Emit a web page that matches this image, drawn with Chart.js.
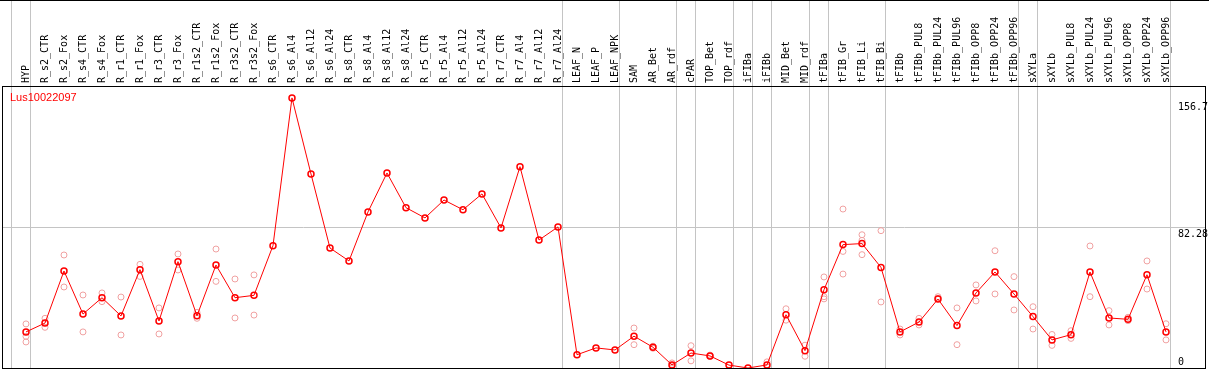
<!DOCTYPE html>
<html lang="en">
<head>
<meta charset="utf-8">
<title>Lus10022097</title>
<script src="https://cdn.jsdelivr.net/npm/chart.js"></script>
<style>
  body { margin: 0; background: #fff; }
  .wrap { position: relative; width: 1209px; height: 369px; border-top: 1px solid #000; }
  #title { position: absolute; left: 10px; top: 90px; color: #f00; font: 11px "Liberation Sans", Arial, sans-serif; }
</style>
</head>
<body>
<div class="wrap">
  <canvas id="chart" width="1209" height="369"></canvas>
  <div id="title">Lus10022097</div>
</div>
<script>
// sample names, in plot order
const categories = [
  'HYP', 'R_s2_CTR', 'R_s2_Fox', 'R_s4_CTR', 'R_s4_Fox', 'R_r1_CTR', 'R_r1_Fox', 'R_r3_CTR', 'R_r3_Fox',
  'R_r1s2_CTR', 'R_r1s2_Fox', 'R_r3s2_CTR', 'R_r3s2_Fox', 'R_s6_CTR', 'R_s6_Al4', 'R_s6_Al12', 'R_s6_Al24',
  'R_s8_CTR', 'R_s8_Al4', 'R_s8_Al12', 'R_s8_Al24', 'R_r5_CTR', 'R_r5_Al4', 'R_r5_Al12', 'R_r5_Al24',
  'R_r7_CTR', 'R_r7_Al4', 'R_r7_Al12', 'R_r7_Al24', 'LEAF_N', 'LEAF_P', 'LEAF_NPK', 'SAM', 'AR_Bet', 'AR_rdf',
  'cPAR', 'TOP_Bet', 'TOP_rdf', 'iFIBa', 'iFIBb', 'MID_Bet', 'MID_rdf', 'tFIBa', 'tFIB_Gr', 'tFIB_Li', 'tFIB_Bi',
  'tFIBb', 'tFIBb_PUL8', 'tFIBb_PUL24', 'tFIBb_PUL96', 'tFIBb_OPP8', 'tFIBb_OPP24', 'tFIBb_OPP96',
  'sXYLa', 'sXYLb', 'sXYLb_PUL8', 'sXYLb_PUL24', 'sXYLb_PUL96', 'sXYLb_OPP8', 'sXYLb_OPP24', 'sXYLb_OPP96'
];

// mean expression per sample
const means = [
  21.2, 26.4, 57.0, 31.7, 41.3, 30.6, 57.8, 27.6, 62.5, 30.7,
  60.5, 41.3, 42.7, 71.9, 158.7, 114.0, 70.5, 62.9, 91.7, 114.6,
  94.2, 88.2, 98.7, 93.0, 102.3, 82.3, 118.3, 75.2, 82.9, 7.8,
  11.8, 10.6, 18.7, 12.2, 1.8, 8.8, 7.1, 1.7, 0, 1.8,
  31.3, 10.2, 46.0, 72.5, 73.1, 59.1, 21.2, 27.0, 40.5, 24.9,
  44.1, 56.4, 43.5, 30.2, 16.5, 19.6, 56.4, 29.4, 28.6, 54.8, 21.2
];

// single replicate values per sample
const replicates = [
  [25.9, 18.6, 15.3], [29.2, 23.9], [66.4, 47.6], [42.9, 21.2], [44.1, 39.0],
  [41.7, 19.4], [60.9, 53.8], [35.3, 20.0], [67.0, 57.6], [32.7, 29.2],
  [69.9, 50.9], [52.3, 29.4], [54.7, 31.1], [], [], [], [], [], [], [], [], [], [], [], [], [], [], [], [], [], [], [],
  [23.5, 13.7], [12.8, 11.6], [3.0, 0.8], [13.1, 4.2], [7.6, 6.8], [], [], [3.6, 0.6],
  [34.8, 28.1], [13.4, 6.9], [53.5, 41.9, 40.6], [93.4, 68.5, 55.2], [78.3, 75.0, 66.6], [80.7, 38.8],
  [22.9, 19.4], [29.2, 25.3], [41.9, 40.9], [35.3, 13.7], [48.8, 39.4], [68.9, 43.5], [53.7, 34.1],
  [36.0, 22.9], [19.7, 13.3], [21.9, 17.4], [71.7, 41.9], [33.7, 25.3], [29.8, 27.8], [62.9, 46.4], [26.0, 16.5]
];

// separators between sample groups (in category units)
const groupEdges = [-0.75, 0.25, 28.25, 31.25, 34.25, 35.25, 37.25, 38.25, 39.25, 41.25, 42.25, 45.25, 52.25, 53.25, 60.25];
const yTicks = [0, 82.28, 156.7];

const meanPoints = means.map((v, i) => ({ x: i, y: v }));
const repPoints = [];
replicates.forEach((list, i) => list.forEach(v => repPoints.push({ x: i, y: v })));

const mono = '"DejaVu Sans Mono", monospace';

// value labels on the right, sitting just under (or above, for 0) their level
const yLabels = {
  id: 'yLabels',
  afterDraw(chart) {
    const { ctx, chartArea, scales } = chart;
    ctx.save();
    ctx.font = '10px ' + mono;
    ctx.fillStyle = '#000';
    ctx.textAlign = 'left';
    ctx.textBaseline = 'alphabetic';
    yTicks.forEach(v => {
      const y = scales.y.getPixelForValue(v);
      ctx.fillText(String(v), chartArea.right - 27, v === 0 ? y - 3 : y + 9);
    });
    ctx.restore();
  }
};

new Chart(document.getElementById('chart'), {
  type: 'scatter',
  data: {
    datasets: [{
      type: 'line',
      label: 'mean',
      data: meanPoints,
      borderColor: '#ff0000',
      borderWidth: 1,
      pointRadius: 3,
      pointBorderWidth: 1.5,
      pointBorderColor: '#ff0000',
      pointBackgroundColor: 'rgba(0,0,0,0)',
      tension: 0,
      order: 1
    }, {
      label: 'replicates',
      data: repPoints,
      pointRadius: 3,
      pointBorderWidth: 1,
      pointBorderColor: '#f0a0a0',
      pointBackgroundColor: 'rgba(0,0,0,0)',
      showLine: false,
      order: 2
    }]
  },
  options: {
    responsive: false,
    animation: false,
    layout: { autoPadding: false, padding: { left: 2, right: 4, top: 0, bottom: 2 } },
    plugins: { legend: { display: false }, tooltip: { enabled: false } },
    scales: {
      x: {
        type: 'linear',
        position: 'top',
        min: -1.263,
        max: 62.053,
        afterBuildTicks: s => {
          s.ticks = categories.map((c, i) => ({ value: i }))
            .concat(groupEdges.map(v => ({ value: v })))
            .sort((a, b) => a.value - b.value);
        },
        afterFit: s => { s.height = 85; s.paddingLeft = 0; s.paddingRight = 0; },
        ticks: {
          autoSkip: false,
          minRotation: 90,
          maxRotation: 90,
          padding: -82,
          labelOffset: 12,
          color: '#000',
          font: { family: mono, size: 10 },
          callback: v => Number.isInteger(v) ? categories[v] : ''
        },
        grid: {
          color: c => (c.tick && Number.isInteger(c.tick.value)) ? 'rgba(0,0,0,0)' : '#c4c4c4',
          tickLength: 85,
          lineWidth: 1
        },
        border: { color: '#000', width: 1 }
      },
      xb: {
        type: 'linear',
        position: 'bottom',
        min: 0, max: 1,
        afterFit: s => { s.height = 0; },
        ticks: { display: false },
        grid: { display: false },
        border: { color: '#000', width: 1 }
      },
      y: {
        position: 'left',
        min: 0,
        max: 165.7,
        afterBuildTicks: s => { s.ticks = yTicks.map(v => ({ value: v })); },
        afterFit: s => { s.width = 0; },
        ticks: { display: false },
        grid: {
          color: c => (c.tick && c.tick.value === 82.28) ? '#c4c4c4' : 'rgba(0,0,0,0)',
          drawTicks: false
        },
        border: { color: '#000', width: 1 }
      },
      yr: {
        position: 'right',
        min: 0, max: 1,
        afterFit: s => { s.width = 0; },
        ticks: { display: false },
        grid: { display: false },
        border: { color: '#000', width: 1 }
      }
    }
  },
  plugins: [yLabels]
});
</script>
</body>
</html>
